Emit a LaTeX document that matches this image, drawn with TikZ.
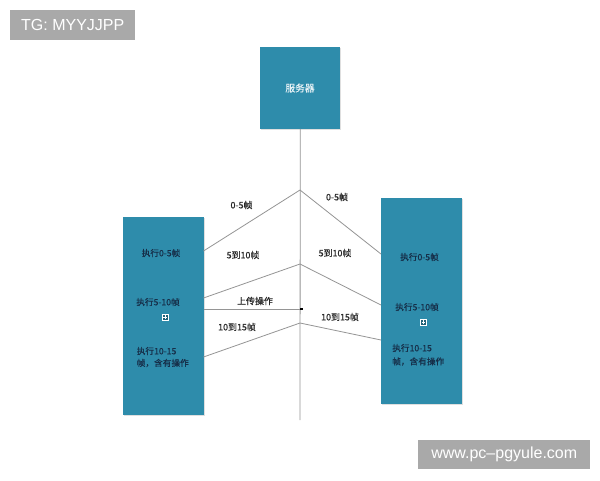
\documentclass[tikz,border=0pt]{standalone}
\usepackage{fontspec}
\setmainfont{Liberation Sans}
\newfontfamily\cjk{Noto Sans CJK SC}[FakeBold=0.45]
\usetikzlibrary{shadows}
\definecolor{boxteal}{HTML}{2E8CAB}
\definecolor{boxtext}{HTML}{162E48}
\definecolor{linegray}{HTML}{959595}
\definecolor{tagray}{HTML}{A9A9A9}
\tikzset{
  tealbox/.style={draw=none, fill=boxteal, inner sep=0pt, anchor=north west,
    drop shadow={opacity=0.25, shadow xshift=0.6pt, shadow yshift=-0.8pt}},
  intext/.style={font=\cjk\fontsize{6.5}{8}\selectfont, text=boxtext, inner sep=0pt},
  lbl/.style={font=\cjk\fontsize{6.7}{8}\selectfont, text=black!85, inner sep=0pt},
  conn/.style={draw=linegray, line width=0.6pt},
  tag/.style={fill=tagray, text=white, inner sep=0pt, font=\fontsize{12}{14}\selectfont},
  plusicon/.style={draw=white, fill=boxteal!70!black, line width=0.4pt, minimum size=4.5pt, inner sep=0pt,
    path picture={\draw[white, line width=0.4pt]
      ([xshift=1pt]path picture bounding box.west) -- ([xshift=-1pt]path picture bounding box.east)
      ([yshift=-1pt]path picture bounding box.north) -- ([yshift=1pt]path picture bounding box.south);}}
}
\begin{document}
\begin{tikzpicture}[x=0.75pt, y=-0.75pt]
\useasboundingbox (0,0) rectangle (600,480);
\fill[white] (0,0) rectangle (600,480);

% tags
\node[tag, minimum width=93.75pt, minimum height=22.5pt, anchor=north west] (tg) at (10,10) {TG: MYYJJPP};
\node[tag, minimum width=129pt, minimum height=21.75pt, anchor=north west] (wm) at (418,440) {www.pc–pgyule.com};

% server
\node[tealbox, minimum width=60pt, minimum height=61pt] (srv) at (260,47) {};
\node[font=\cjk\fontsize{7.3}{9}\selectfont, text=white!88!boxteal, inner sep=0pt] (srvtxt) at (300,88) {服务器};

% timeline
\coordinate (bottom) at (300,420);
\draw[conn] (srv.south) -- (bottom);

% left and right boxes
\node[tealbox, minimum width=60.5pt, minimum height=148.5pt] (L) at (123,217) {};
\node[tealbox, minimum width=60.75pt, minimum height=154.5pt] (R) at (381,198) {};

% vertices on timeline
\coordinate (v1) at (300,190);
\coordinate (v2) at (300,264);
\coordinate (v3) at (300,323);
\coordinate (up) at (301.5,309);

% connector endpoints on boxes
\coordinate (l1) at (203.5,251);
\coordinate (l2) at (203.5,298);
\coordinate (lu) at (203.5,309);
\coordinate (l3) at (203.5,357);
\coordinate (r1) at (381,254);
\coordinate (r2) at (381,305);
\coordinate (r3) at (381,340);

\draw[conn] (l1) -- (v1) -- (r1);
\draw[conn] (l2) -- (v2) -- (r2);
\draw[conn] (l3) -- (v3) -- (r3);
\draw[conn] (lu) -- (up);
\fill[black] ([xshift=-1pt,yshift=-1pt]up) rectangle ([xshift=1pt,yshift=1pt]up);

% connector labels
\node[lbl] (a1) at (241.5,205) {0-5帧};
\node[lbl] (a2) at (243,255) {5到10帧};
\node[lbl] (a3) at (255,301) {上传操作};
\node[lbl] (a4) at (237,327) {10到15帧};
\node[lbl] (b1) at (337,197) {0-5帧};
\node[lbl] (b2) at (335,253) {5到10帧};
\node[lbl] (b3) at (340,317) {10到15帧};

% left box texts
\node[intext] (lt1) at (161,253) {执行0-5帧};
\node[intext] (lt2) at (158,302) {执行5-10帧};
\node[plusicon] (li) at (165,317) {};
\node[intext, anchor=west] (lt3) at (136.5,351) {执行10-15};
\node[intext, anchor=west] (lt4) at (136.5,363) {帧，含有操作};

% right box texts
\node[intext] (rt1) at (419.5,257) {执行0-5帧};
\node[intext] (rt2) at (417,307) {执行5-10帧};
\node[plusicon] (ri) at (423.5,322) {};
\node[intext, anchor=west] (rt3) at (392,348) {执行10-15};
\node[intext, anchor=west] (rt4) at (392,361.5) {帧，含有操作};
\end{tikzpicture}
\end{document}
